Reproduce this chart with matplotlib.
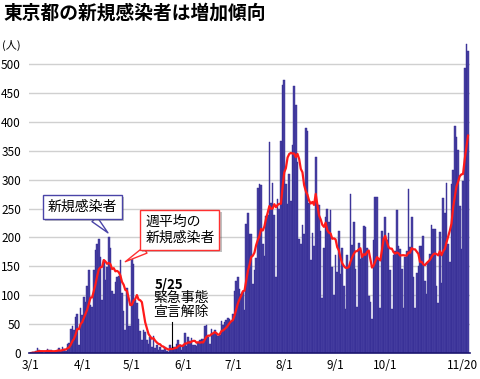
import numpy as np
import pandas as pd
import matplotlib
matplotlib.use('Agg')
import matplotlib.pyplot as plt
import matplotlib.patheffects as pe
from matplotlib.transforms import ScaledTranslation

plt.rcParams['font.family'] = ['Noto Sans CJK JP', 'DejaVu Sans']

# daily new cases in Tokyo, 3/1 - 11/20
mar = [0, 1, 1, 3, 8, 6, 3, 1, 0, 1, 7, 5, 5, 2, 1, 2, 6, 9, 4, 11, 7, 3, 16, 17, 41, 47, 40, 63, 68, 13, 78]
apr = [66, 97, 89, 116, 143, 83, 80, 144, 178, 189, 197, 166, 91, 161, 127, 149, 201, 181, 107, 102,
       123, 132, 134, 161, 103, 72, 39, 112, 47, 46]
may = [165, 154, 91, 87, 58, 38, 23, 39, 36, 22, 15, 28, 10, 30, 9, 14, 5, 10, 5, 5, 11, 3, 2, 14, 8,
       10, 11, 15, 22, 14, 5]
jun = [13, 34, 12, 28, 20, 26, 14, 13, 12, 18, 22, 25, 24, 47, 48, 27, 16, 41, 35, 39, 35, 29, 31, 55,
       48, 54, 57, 60, 58, 54]
jul = [67, 107, 124, 131, 111, 102, 106, 75, 224, 243, 206, 206, 119, 143, 165, 286, 293, 290, 188, 168,
       237, 238, 366, 260, 295, 239, 131, 266, 250, 367, 463]
aug = [472, 292, 258, 309, 263, 360, 462, 429, 331, 197, 188, 222, 206, 389, 385, 260, 161, 207, 186, 339,
       258, 256, 212, 95, 182, 236, 250, 226, 247, 148, 100]
sep = [170, 141, 211, 136, 181, 116, 77, 170, 149, 276, 187, 226, 146, 80, 191, 163, 171, 220, 218, 181,
       98, 88, 59, 195, 270, 270, 161, 78, 212, 194]
oct_ = [235, 196, 207, 143, 77, 170, 177, 248, 186, 180, 146, 78, 166, 177, 284, 184, 235, 132, 78, 139,
        150, 185, 186, 203, 124, 102, 158, 171, 221, 215, 215]
nov = [116, 87, 209, 122, 269, 242, 294, 189, 157, 293, 317, 393, 374, 352, 255, 180, 298, 493, 534, 522]

tick_dates = ['2020-03-01', '2020-04-01', '2020-05-01', '2020-06-01', '2020-07-01',
              '2020-08-01', '2020-09-01', '2020-10-01', '2020-11-20']
tick_labels = ['3/1', '4/1', '5/1', '6/1', '7/1', '8/1', '9/1', '10/1', '11/20']
yticks = [0, 50, 100, 150, 200, 250, 300, 350, 400, 450, 500]

cases = mar + apr + may + jun + jul + aug + sep + oct_ + nov
dates = pd.date_range('2020-03-01', '2020-11-20')
assert len(cases) == len(dates)
s = pd.Series(cases, index=dates)
weekly = s.rolling(7, min_periods=1).mean()
x = np.arange(len(s))

fig = plt.figure(figsize=(4.8, 3.79), dpi=100)
ax = fig.add_axes([29.3 / 480, 26 / 379, 440.7 / 480, 312 / 379])

ax.bar(x, s.values, width=1.0, color='#4a42a2', edgecolor='#2c2490', linewidth=0.3, zorder=2)
ax.plot(x, weekly.values, color='#ff1a1a', lw=1.6, zorder=3)

ax.set_xlim(-1, 265.2)
ax.set_ylim(0, 540)
ax.set_yticks(yticks)
ax.grid(True, axis='y', color='#d0d0d0', lw=1)
ax.set_axisbelow(True)
tick_pos = [dates.get_loc(pd.Timestamp(d)) for d in tick_dates]
ax.set_xticks(tick_pos)
ax.set_xticklabels(tick_labels)
ax.tick_params(axis='both', length=0, labelsize=8.5)
ax.tick_params(axis='y', pad=6)
ax.tick_params(axis='x', pad=4)
# keep the last date label inside the figure
last = ax.get_xticklabels()[-1]
last.set_transform(last.get_transform() + ScaledTranslation(-6 / 100, 0, fig.dpi_scale_trans))
for sp in ['top', 'right', 'left']:
    ax.spines[sp].set_visible(False)
ax.spines['bottom'].set_color('#1c1670')
ax.spines['bottom'].set_linewidth(1.2)
ax.spines['bottom'].set_zorder(4)

fig.text(3 / 480, 1 - 13 / 379, '東京都の新規感染者は増加傾向', fontsize=13.5,
         weight='bold', va='center', ha='left')
fig.text(2 / 480, 1 - 45 / 379, '(人)', fontsize=8, va='center', ha='left')

shadow = [pe.SimplePatchShadow(offset=(1.5, -1.5), alpha=0.35), pe.Normal()]

t1 = ax.annotate('新規感染者', xy=(46.5, 208), xytext=(31, 253), ha='center', va='center',
                 fontsize=10,
                 bbox=dict(boxstyle='square,pad=0.35', fc='white', ec='#4a44a8', lw=1),
                 arrowprops=dict(arrowstyle='wedge,tail_width=0.5', fc='white', ec='#4a44a8',
                                 lw=1, shrinkA=0, shrinkB=0),
                 zorder=6)
t1.get_bbox_patch().set_path_effects(shadow)

t2 = ax.annotate('週平均の\n新規感染者', xy=(57, 158), xytext=(69, 213), ha='left', va='center',
                 fontsize=10, linespacing=1.15,
                 bbox=dict(boxstyle='square,pad=0.35', fc='white', ec='#ff3030', lw=1),
                 arrowprops=dict(arrowstyle='wedge,tail_width=0.5', fc='white', ec='#ff3030',
                                 lw=1, shrinkA=0, shrinkB=0),
                 zorder=6)
t2.get_bbox_patch().set_path_effects(shadow)

ax.text(74.5, 118, '5/25', fontsize=9.5, weight='bold', ha='left', va='center', zorder=6)
ax.text(74.0, 83, '緊急事態\n宣言解除', fontsize=10, ha='left', va='center',
        linespacing=1.05, zorder=6)
ax.plot([85, 85], [10, 53], color='black', lw=0.8, zorder=5)

fig.savefig('out.png', dpi=100)
